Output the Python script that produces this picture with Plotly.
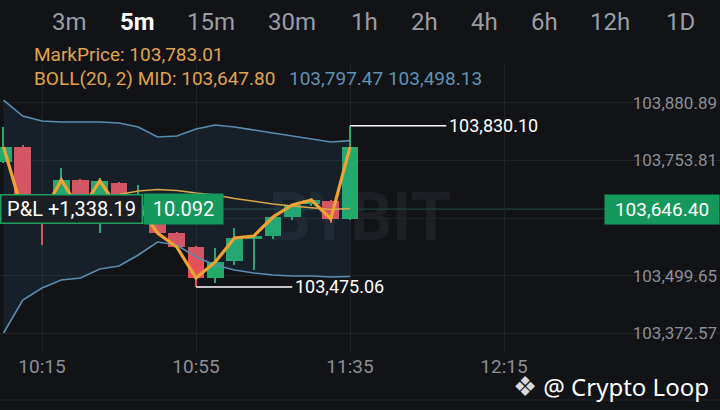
import plotly.graph_objects as go

# 5m candles, 10:05 -> 11:35
day = "2025-05-09 "
times = [day + t for t in [
    "10:05", "10:10", "10:15", "10:20", "10:25", "10:30", "10:35", "10:40", "10:45", "10:50",
    "10:55", "11:00", "11:05", "11:10", "11:15", "11:20", "11:25", "11:30", "11:35",
]]
opens = [103750.3, 103783.3, 103649.0, 103635.8, 103710.7, 103642.4, 103704.1, 103635.8, 103653.4, 103593.9,
         103563.1, 103494.8, 103532.3, 103580.7, 103587.3, 103629.2, 103657.8, 103664.4, 103624.8]
highs = [103827.4, 103787.7, 103655.6, 103737.1, 103712.9, 103715.1, 103706.3, 103699.7, 103655.6, 103596.2,
         103565.3, 103560.9, 103605.0, 103589.5, 103631.4, 103657.8, 103671.0, 103666.6, 103830.10]
lows = [103748.1, 103635.8, 103567.5, 103631.4, 103638.0, 103593.9, 103642.4, 103629.2, 103591.7, 103560.9,
        103475.06, 103483.8, 103523.5, 103512.5, 103580.7, 103622.6, 103653.4, 103616.0, 103622.0]
closes = [103783.3, 103640.2, 103633.6, 103710.7, 103642.4, 103708.5, 103646.8, 103653.4, 103593.9, 103563.1,
          103494.8, 103530.1, 103582.9, 103587.3, 103629.2, 103655.6, 103666.6, 103624.8, 103783.01]

# BOLL(20, 2)
boll_up = [103886.8, 103851.6, 103840.6, 103838.4, 103838.4, 103838.4, 103836.2, 103827.4, 103805.4, 103807.6,
           103823.0, 103831.8, 103827.4, 103820.8, 103814.2, 103807.6, 103801.0, 103794.3, 103797.47]
boll_mid = [103630.3, 103649.0, 103656.7, 103664.4, 103666.6, 103676.6, 103678.8, 103686.5, 103689.8, 103687.6,
            103682.1, 103677.7, 103670.0, 103663.4, 103657.9, 103653.5, 103650.2, 103645.7, 103647.80]
boll_low = [103373.7, 103446.4, 103472.8, 103490.4, 103494.8, 103514.7, 103521.3, 103545.5, 103574.1, 103567.5,
            103541.1, 103523.5, 103512.5, 103505.9, 103501.5, 103499.3, 103499.3, 103497.1, 103498.13]

last_price = 103646.40
mark_price = 103783.01
pnl_text = "P&L +1,338.19"
qty_text = "10.092"

y_ticks = [103372.57, 103499.65, 103626.73, 103753.81, 103880.89]
y_ticktext = ["103,372.57", "103,499.65", "", "103,753.81", "103,880.89"]
x_ticks = [day + t for t in ["10:15", "10:55", "11:35", "12:15", "12:55"]]
x_ticktext = ["10:15", "10:55", "11:35", "12:15", "12:55"]
intervals = ["3m", "5m", "15m", "30m", "1h", "2h", "4h", "6h", "12h", "1D"]
active_interval = "5m"

GREEN = "#22ab6b"
RED = "#e6505a"
BG = "#121317"
FONT = "Roboto"

W, H = 720, 410
TOP, BOTTOM = 63, 353


def py(px):
    # pixel row -> paper y
    return (BOTTOM - px) / (BOTTOM - TOP)


fig = go.Figure()

# candles (bars sit under the scatter layer, so the band fill is see-through)
colors = [GREEN if c >= o else RED for o, c in zip(opens, closes)]
fig.add_trace(go.Bar(x=times, base=lows, y=[h - l for h, l in zip(highs, lows)],
                     width=24000, marker=dict(color=colors, line_width=0), hoverinfo="skip"))
fig.add_trace(go.Bar(x=times, base=[min(o, c) for o, c in zip(opens, closes)],
                     y=[max(abs(c - o), 2) for o, c in zip(opens, closes)],
                     width=262000, marker=dict(color=colors, line_width=0), hoverinfo="skip"))

# bollinger band fill + lines
fig.add_trace(go.Scatter(x=times, y=boll_up, mode="lines",
                         line=dict(color="#5b8db0", width=1.6), hoverinfo="skip"))
fig.add_trace(go.Scatter(x=times, y=boll_low, mode="lines", fill="tonexty",
                         fillcolor="rgba(64,137,190,0.11)",
                         line=dict(color="#5b8db0", width=1.6), hoverinfo="skip"))
fig.add_trace(go.Scatter(x=times, y=boll_mid, mode="lines",
                         line=dict(color="#d9a64c", width=1.4), hoverinfo="skip"))

# close line
fig.add_trace(go.Scatter(x=times, y=closes, mode="lines",
                         line=dict(color="#f0a332", width=3.2), hoverinfo="skip"))

# high / low markers
i_hi = highs.index(max(highs))
i_lo = lows.index(min(lows))
hi_end = day + "12:00"
lo_end = day + "11:20"
shapes = [
    # watermark, kept under the traces
    dict(type="rect", xref="paper", yref="paper", x0=270 / W, x1=450 / W, y0=py(240), y1=py(185),
         line_width=0, fillcolor="rgba(0,0,0,0)", layer="below",
         label=dict(text="BYBIT", font=dict(color="#1d1f24", size=66, family=FONT, weight="bold"))),
    dict(type="line", xref="x", yref="y", x0=times[i_hi], x1=hi_end, y0=highs[i_hi], y1=highs[i_hi],
         line=dict(color="white", width=1.6)),
    dict(type="line", xref="x", yref="y", x0=times[i_lo], x1=lo_end, y0=lows[i_lo], y1=lows[i_lo],
         line=dict(color="white", width=1.6)),
    dict(type="line", xref="paper", yref="y", x0=0, x1=1, y0=last_price, y1=last_price,
         line=dict(color="#21403b", width=1.2), layer="below"),
    dict(type="line", xref="paper", yref="paper", x0=0, x1=1, y0=py(400), y1=py(400),
         line=dict(color="#1e2024", width=1.5)),
]

annotations = [
    dict(x=hi_end, y=highs[i_hi], xref="x", yref="y", text=f"{highs[i_hi]:,.2f}", showarrow=False,
         xanchor="left", font=dict(color="white", size=18, family=FONT), xshift=1),
    dict(x=lo_end, y=lows[i_lo], xref="x", yref="y", text=f"{lows[i_lo]:,.2f}", showarrow=False,
         xanchor="left", font=dict(color="white", size=18, family=FONT), xshift=1),
    # position labels
    dict(x=0, y=last_price, xref="paper", yref="y", text=pnl_text, showarrow=False, xanchor="left",
         width=140, height=27, bgcolor="#1b1e22", bordercolor="#1f9d5e", borderwidth=1.5, borderpad=0,
         font=dict(color="white", size=20, family=FONT)),
    dict(x=143 / W, y=last_price, xref="paper", yref="y", text=qty_text, showarrow=False, xanchor="left",
         width=79, height=30, bgcolor="#15985b", borderpad=0,
         font=dict(color="white", size=20, family=FONT)),
    dict(x=1, y=last_price, xref="paper", yref="y", text=f"{last_price:,.2f}", showarrow=False,
         xanchor="right", width=114, height=29, bgcolor="#15985b", borderpad=0,
         font=dict(color="white", size=19, family=FONT)),
    # legend text
    dict(x=32 / W, y=py(55), xref="paper", yref="paper", xanchor="left", yanchor="middle", showarrow=False,
         text=f"MarkPrice: {mark_price:,.2f}", font=dict(color="#e0a24f", size=19, family=FONT)),
    dict(x=32 / W, y=py(78), xref="paper", yref="paper", xanchor="left", yanchor="middle", showarrow=False,
         text=f"BOLL(20, 2) MID: {boll_mid[-1]:,.2f}", font=dict(color="#e0a24f", size=19, family=FONT)),
    dict(x=287 / W, y=py(78), xref="paper", yref="paper", xanchor="left", yanchor="middle", showarrow=False,
         text=f"{boll_up[-1]:,.2f} {boll_low[-1]:,.2f}", font=dict(color="#5f93b4", size=19, family=FONT)),
    # signature
    dict(x=711 / W, y=py(385), xref="paper", yref="paper", xanchor="right", yanchor="middle",
         showarrow=False,
         text="<span style='color:#d8d8d8;font-size:27px'>❖</span> @ Crypto Loop",
         font=dict(color="white", size=24, family="Noto Sans")),
]

interval_x = [69, 137, 211, 292, 364, 424, 484, 544, 610, 680]
for name, xp in zip(intervals, interval_x):
    active = name == active_interval
    annotations.append(dict(
        x=xp / W, y=py(22), xref="paper", yref="paper", showarrow=False,
        xanchor="center", yanchor="middle",
        text=f"<b>{name}</b>" if active else name,
        font=dict(color="white" if active else "#9a9da3", size=24, family=FONT),
    ))

x0 = "2025-05-09 10:04:05"
x1 = "2025-05-09 13:11:06"
fig.update_layout(
    width=W, height=H,
    margin=dict(l=0, r=0, t=TOP, b=H - BOTTOM),
    paper_bgcolor=BG, plot_bgcolor=BG,
    barmode="overlay", bargap=0,
    showlegend=False,
    shapes=shapes,
    annotations=annotations,
    font=dict(family=FONT),
)
fig.update_xaxes(
    type="date", range=[x0, x1], tickvals=x_ticks, ticktext=x_ticktext,
    showgrid=True, gridcolor="#202226", gridwidth=1, zeroline=False, showline=False,
    tickfont=dict(color="#8c8f95", size=19), ticks="",
)
fig.update_yaxes(
    range=[103329.7, 103968.3], side="right", ticklabelposition="inside",
    tickvals=y_ticks, ticktext=y_ticktext,
    showgrid=True, gridcolor="#202226", gridwidth=1, zeroline=False, showline=False,
    tickfont=dict(color="#8c8f95", size=17), ticks="",
)

fig.write_html("out.html", config={"displayModeBar": False},
               post_script="document.body.style.margin='0px';"
                           "document.body.style.background='%s';" % BG)
